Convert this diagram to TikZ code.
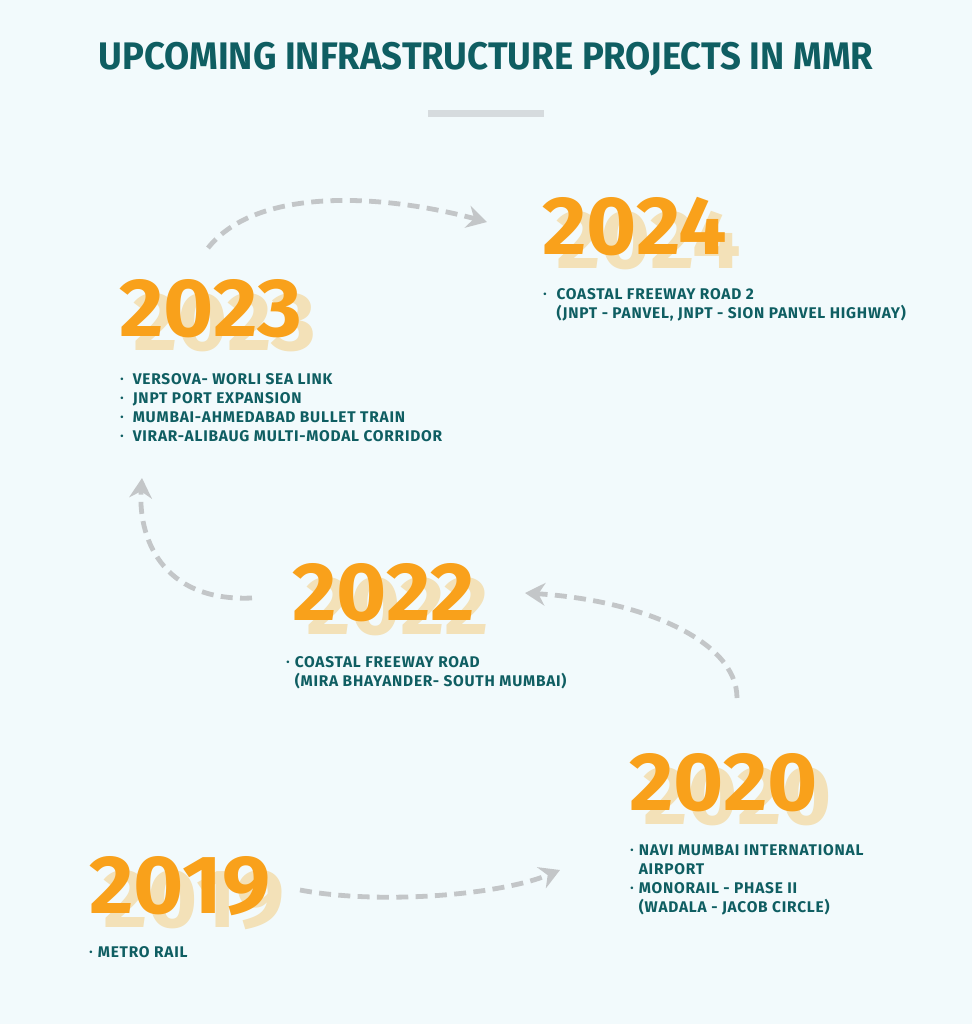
\documentclass[tikz,border=0pt]{standalone}
\usepackage{fontspec}
\setmainfont{Fira Sans}[LetterSpace=5]
\newfontfamily\titlefont{Fira Sans}[FakeStretch=0.95]
\newfontfamily\yearfont{Fira Sans}[FakeStretch=1.04]
\usetikzlibrary{arrows.meta, positioning}
\definecolor{cteal}{HTML}{0F5E62}
\definecolor{corange}{HTML}{F9A11B}
\definecolor{cshade}{HTML}{F3E1B8}
\definecolor{cgrey}{HTML}{C3C6C8}
\definecolor{cbar}{HTML}{D6DBDE}
\definecolor{cback}{HTML}{F2FAFC}
\newcommand{\blt}{\raisebox{1pt}{\fontsize{7}{7}\selectfont •}}
\newcommand{\plist}[2][4pt]{\begin{tabular}[t]{@{}l@{\hspace{#1}}l@{}}#2\end{tabular}}
\tikzset{
  every picture/.style={x=0.75pt, y=-0.75pt},
  title/.style={font=\titlefont\bfseries\fontsize{28.8}{29}\selectfont, text=cteal},
  year/.style={font=\yearfont\bfseries\fontsize{62}{62}\selectfont, text=corange, anchor=base west, inner sep=0pt},
  shade/.style={year, text=cshade},
  items/.style={font=\bfseries\fontsize{11.6}{14.25}\selectfont, text=cteal, anchor=base west, inner sep=0pt},
  flow/.style={draw=cgrey, line width=3.6pt, dash pattern=on 9pt off 5.5pt, -{Stealth[length=15pt, width=17pt, inset=5pt]}},
}
\begin{document}
\begin{tikzpicture}
  \fill[cback] (0,0) rectangle (972,1024);
  \useasboundingbox (0,0) rectangle (972,1024);

  % ---- heading
  \node[title] (head) at (486,59) {UPCOMING INFRASTRUCTURE PROJECTS IN MMR};
  \fill[cbar] (428,110) rectangle (544,117);

  % ---- years, pale copy behind
  \foreach \t/\x/\y in {2024/542/254, 2023/119/336, 2022/292/620, 2020/629/810, 2019/89/913}
    \node[shade] (s\t) at (\x+14,\y+14) {\t};
  \foreach \t/\x/\y in {2024/542/254, 2023/119/336, 2022/292/620, 2020/629/810, 2019/89/913}
    \node[year] (y\t) at (\x,\y) {\t};

  % ---- projects
  \node[items] (l2024) at (543,299) {\plist[7.5pt]{\blt & COASTAL FREEWAY ROAD 2\\
    & (JNPT - PANVEL, JNPT - SION PANVEL HIGHWAY)}};
  \node[items] (l2023) at (120,384) {\plist[7pt]{\blt & VERSOVA- WORLI SEA LINK\\
    \blt & JNPT PORT EXPANSION\\
    \blt & MUMBAI-AHMEDABAD BULLET TRAIN\\
    \blt & VIRAR-ALIBAUG MULTI-MODAL CORRIDOR}};
  \node[items] (l2022) at (286,667) {\plist[4pt]{\blt & COASTAL FREEWAY ROAD\\
    & (MIRA BHAYANDER- SOUTH MUMBAI)}};
  \node[items] (l2020) at (630,855) {\plist[4pt]{\blt & NAVI MUMBAI INTERNATIONAL\\
    & AIRPORT\\
    \blt & MONORAIL - PHASE II\\
    & (WADALA - JACOB CIRCLE)}};
  \node[items] (l2019) at (89,957) {\plist[4pt]{\blt & METRO RAIL}};

  % ---- arrows between the years
  \draw[flow] ([shift={(211,-23)}]y2019.base west) .. controls +(80,15) and +(-60,25) .. ([shift={(-69,60)}]y2020.base west);
  \draw[flow] ([shift={(108,-112)}]y2020.base west) .. controls +(0,-58) and +(115,7) .. ([shift={(233,-27)}]y2022.base west);
  \draw[flow] ([shift={(-40,-22)}]y2022.base west) .. controls +(-92,4) and +(-4,57) .. ([shift={(23,142)}]y2023.base west);
  \draw[flow] ([shift={(89,-88)}]y2023.base west) .. controls +(50,-63) and +(-100,-27) .. ([shift={(-55,-32)}]y2024.base west);
\end{tikzpicture}
\end{document}
